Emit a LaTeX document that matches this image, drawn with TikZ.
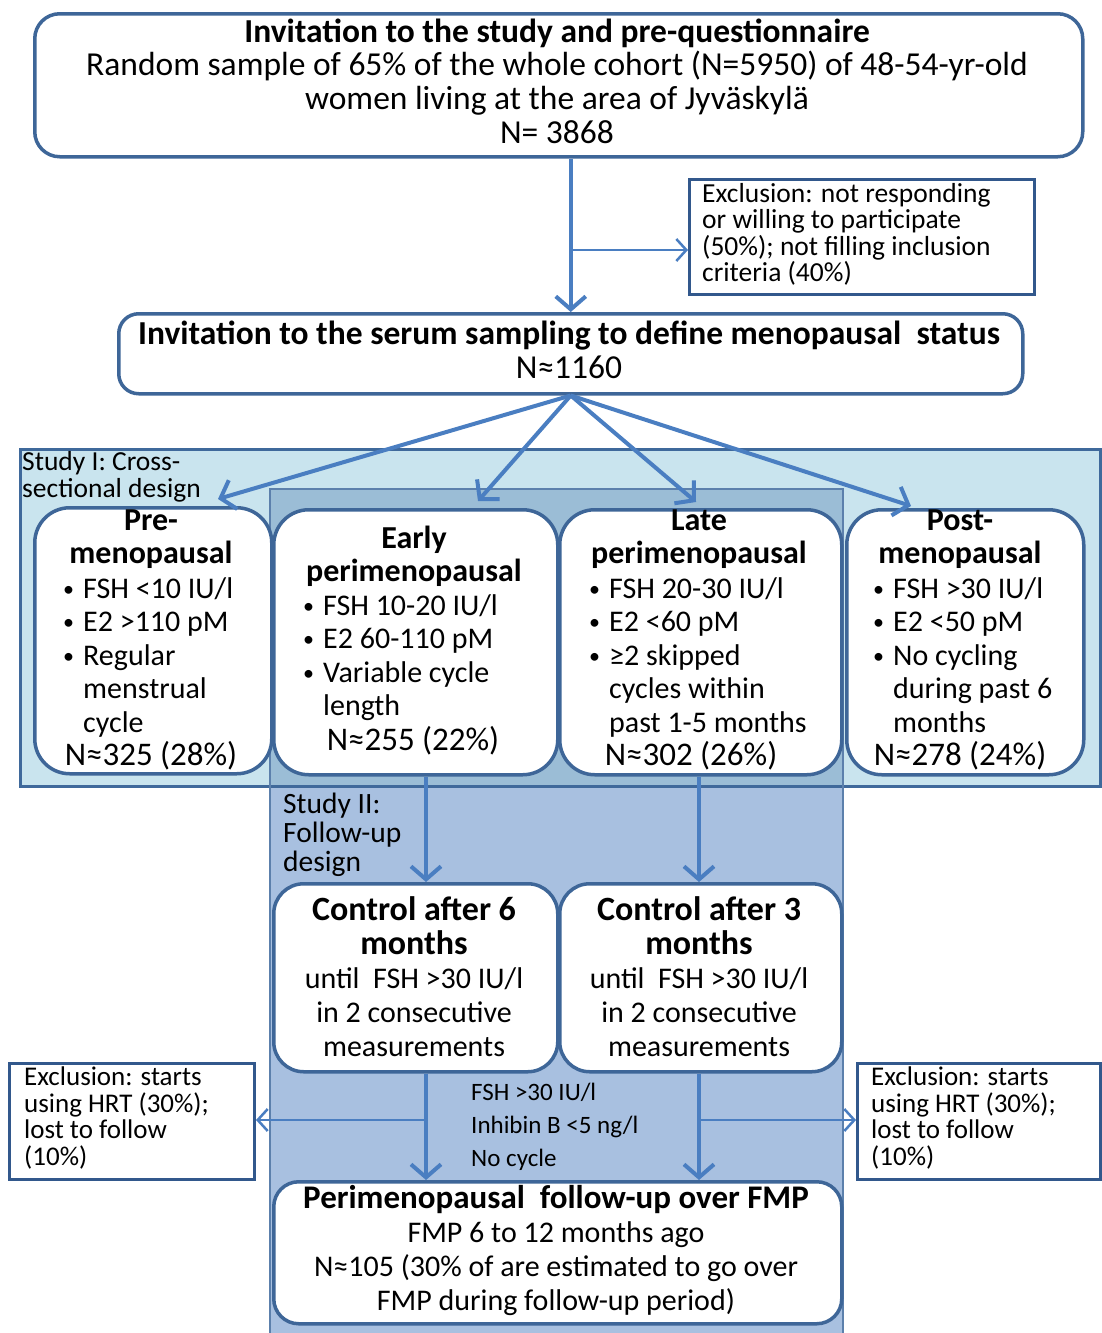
\documentclass[tikz,border=0pt]{standalone}
\usepackage{fontspec}
\setmainfont{Carlito}
\usetikzlibrary{arrows.meta,calc}
\definecolor{bord}{RGB}{62,102,152}
\definecolor{ebord}{RGB}{50,88,140}
\definecolor{arr}{RGB}{74,126,193}
\definecolor{sone}{RGB}{201,228,238}
\definecolor{stwo}{RGB}{168,192,224}
\definecolor{sov}{RGB}{155,189,214}
\definecolor{sbord}{RGB}{63,105,155}
\definecolor{stwobord}{RGB}{92,128,172}
\newcommand\fsTop{\fontsize{33.5}{33.7}\selectfont}
\newcommand\fsHd{\fontsize{32}{33}\selectfont}
\newcommand\fsBl{\fontsize{30}{33.5}\selectfont}
\newcommand\fsN{\fontsize{33}{33}\selectfont}
\newcommand\fsCtl{\fontsize{30}{34}\selectfont}
\newcommand\fsExc{\fontsize{27.5}{26.5}\selectfont\lineskiplimit=-50pt\lineskip=0pt}
\newcommand\fsExs{\fontsize{27}{26.5}\selectfont\lineskiplimit=-50pt\lineskip=0pt}
\newcommand\fsSone{\fontsize{27.5}{27.5}\selectfont\lineskiplimit=-50pt\lineskip=0pt}
\newcommand\fsSmall{\fontsize{25}{33}\selectfont}
\newcommand\bul{\makebox[20pt][l]{\raisebox{2pt}{\fontsize{22}{22}\selectfont\textbullet}}}
\newcommand\bsp{\hspace*{20pt}}
\newcommand\bhd[1]{{\fontsize{34}{34}\selectfont\bfseries #1}}
\begin{document}
\begin{tikzpicture}[x=1pt,y=-1pt,
  wbox/.style={draw=bord,line width=3.5pt,fill=white,anchor=north west,inner sep=0pt,rounded corners=#1},
  wbox/.default=30pt,
  ebox/.style={draw=ebord,line width=3pt,fill=white,anchor=north west,inner sep=0pt},
  conn/.style={draw=arr,line width=4pt,-{Straight Barb[length=13pt,width=30pt]}},
  thinconn/.style={draw=arr,line width=2.5pt,-{Straight Barb[length=10pt,width=22pt]}},
  ctxt/.style={inner sep=0pt,align=center,font=\fsBl},
  ltxt/.style={inner sep=0pt,align=left,anchor=north west,font=\fsBl}]
\useasboundingbox (0,0) rectangle (1101,1333);
% study regions
\fill[sone] (20,449) rectangle (1100,786);
\fill[stwo] (270,786) rectangle (843,1333);
\fill[sov] (270,489) rectangle (843,786);
\draw[sbord,line width=3pt] (20,449) rectangle (1100,786);
\draw[stwobord,line width=2.5pt] (270,1336) -- (270,489) -- (843,489) -- (843,1336);
\node[ltxt,font=\fsSone] (s1lab) at (22,451) {Study I: Cross-\\sectional design};
\node[ltxt,font=\fontsize{29.5}{29}\selectfont] (s2lab) at (283,793) {Study II:\\Follow-up\\design};
% boxes
\node[wbox=25pt,minimum width=1048pt,minimum height=143pt] (top) at (33,12) {};
\node[ctxt,font=\fsTop] (toptxt) at (557,81) {\textbf{Invitation to the study and pre-questionnaire}\\Random sample of 65\% of the whole cohort (N=5950) of 48-54-yr-old\\women living at the area of Jyväskylä\\N= 3868};
\node[ebox,minimum width=345pt,minimum height=115pt] (exc1) at (688,178) {};
\node[ltxt,font=\fsExc] (exc1txt) at (702,183) {Exclusion: not responding\\or willing to participate\\(50\%); not filling inclusion\\criteria (40\%)};
\node[wbox=20pt,minimum width=904pt,minimum height=80pt] (box2) at (117,312) {};
\node[ctxt,font=\fsTop] (box2txt) at (569,350) {\textbf{Invitation to the serum sampling to define menopausal\ \ status}\\N≈1160};
\node[wbox=35pt,minimum width=237pt,minimum height=266pt] (pre) at (33,506) {};
\node[wbox=35pt,minimum width=284pt,minimum height=265pt] (early) at (272,508) {};
\node[wbox=35pt,minimum width=282pt,minimum height=265pt] (late) at (558,508) {};
\node[wbox=35pt,minimum width=237pt,minimum height=265pt] (post) at (845,508) {};
\node[ctxt,font=\fsHd] (prehd) at (151,539) {\textbf{Pre-}\\\textbf{menopausal}};
\node[ctxt,font=\fsHd] (earlyhd) at (414,556) {\textbf{Early}\\\textbf{perimenopausal}};
\node[ctxt,font=\fsHd] (latehd) at (699,539) {\textbf{Late}\\\textbf{perimenopausal}};
\node[ctxt,font=\fsHd] (posthd) at (960,539) {\textbf{Post-}\\\textbf{menopausal}};
\node[ltxt] (prebl) at (63,577) {\bul FSH <10 IU/l\\\bul E2 >110 pM\\\bul Regular\\\bsp menstrual\\\bsp cycle};
\node[ltxt] (earlybl) at (303,594) {\bul FSH 10-20 IU/l\\\bul E2 60-110 pM\\\bul Variable cycle\\\bsp length};
\node[ltxt] (latebl) at (589,577) {\bul FSH 20-30 IU/l\\\bul E2 <60 pM\\\bul ≥2 skipped\\\bsp cycles within\\\bsp past 1-5 months};
\node[ltxt] (postbl) at (873,577) {\bul FSH >30 IU/l\\\bul E2 <50 pM\\\bul No cycling\\\bsp during past 6\\\bsp months};
\node[ctxt,font=\fsN] (pren) at (151,756) {N≈325 (28\%)};
\node[ctxt,font=\fsN] (earlyn) at (413,741) {N≈255 (22\%)};
\node[ctxt,font=\fsN] (laten) at (691,756) {N≈302 (26\%)};
\node[ctxt,font=\fsN] (postn) at (960,756) {N≈278 (24\%)};
\node[wbox=30pt,minimum width=284pt,minimum height=188pt] (c1) at (272,882) {};
\node[wbox=30pt,minimum width=282pt,minimum height=188pt] (c2) at (558,882) {};
\node[ctxt,font=\fsCtl] (c1txt) at (414,977) {\bhd{Control after 6}\\\bhd{months}\\until\ \ FSH >30 IU/l\\in 2 consecutive\\measurements};
\node[ctxt,font=\fsCtl] (c2txt) at (699,977) {\bhd{Control after 3}\\\bhd{months}\\until\ \ FSH >30 IU/l\\in 2 consecutive\\measurements};
\node[wbox=25pt,minimum width=568pt,minimum height=142pt] (fin) at (272,1180) {};
\node[ctxt,font=\fsCtl] (fintxt) at (556,1250) {{\fontsize{33}{33}\selectfont\bfseries Perimenopausal\ \ follow-up over FMP}\\FMP 6 to 12 months ago\\N≈105 (30\% of are estimated to go over\\FMP during follow-up period)};
\node[ebox,minimum width=245pt,minimum height=116pt] (exL) at (8,1062) {};
\node[ebox,minimum width=243pt,minimum height=116pt] (exR) at (856,1062) {};
\node[ltxt,font=\fsExs] (exLtxt) at (24,1067) {Exclusion: starts\\using HRT (30\%);\\lost to follow\\(10\%)};
\node[ltxt,font=\fsExs] (exRtxt) at (871,1067) {Exclusion: starts\\using HRT (30\%);\\lost to follow\\(10\%)};
\node[ltxt,font=\fsSmall] (crit) at (471,1083) {FSH >30 IU/l\\Inhibin B <5 ng/l\\No cycle};
% connectors
\coordinate (br1) at (569,250);
\coordinate (preIn) at (218,499);
\coordinate (earlyIn) at (478,501);
\coordinate (lateIn) at (696,502);
\coordinate (postIn) at (911,506);
\coordinate (colA) at (426,0);
\coordinate (colB) at (699,0);
\coordinate (hA) at (426,1120);
\coordinate (hB) at (699,1120);
\draw[conn] (top.south -| box2.north) -- (box2.north);
\draw[thinconn] (br1) -- (br1 -| exc1.west);
\draw[conn] (box2.south) -- (preIn);
\draw[conn] (box2.south) -- (earlyIn);
\draw[conn] (box2.south) -- (lateIn);
\draw[conn] (box2.south) -- (postIn);
\draw[conn] (early.south -| colA) -- (c1.north -| colA);
\draw[conn] (late.south -| colB) -- (c2.north -| colB);
\draw[conn] (c1.south -| colA) -- (fin.north -| colA);
\draw[conn] (c2.south -| colB) -- (fin.north -| colB);
\draw[thinconn] (hA) -- (hA -| exL.east);
\draw[thinconn] (hB) -- (hB -| exR.west);
\end{tikzpicture}
\end{document}
